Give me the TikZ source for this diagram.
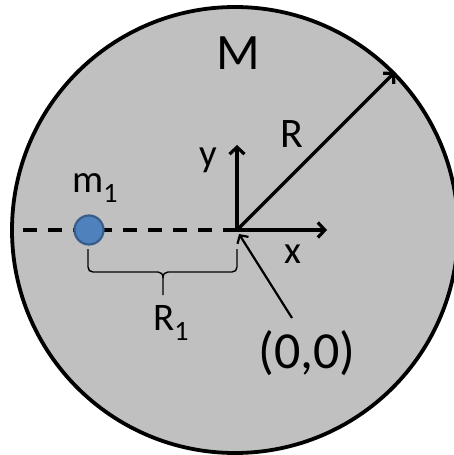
\documentclass[tikz,border=0pt]{standalone}
\usepackage{fontspec}
\setmainfont{Carlito}
\usetikzlibrary{arrows.meta}
\definecolor{diskgray}{RGB}{192,192,192}
\definecolor{massblue}{RGB}{79,129,189}
\definecolor{massedge}{RGB}{56,93,138}
\begin{document}
\begin{tikzpicture}[x=1pt,y=-1pt,
  disk/.style={draw=black,line width=3.8pt,fill=diskgray},
  mass/.style={circle,draw=massedge,line width=2.2pt,fill=massblue,minimum size=29pt,inner sep=0pt},
  dashline/.style={draw=black,line width=3.6pt,dash pattern=on 14pt off 11pt},
  axisarrow/.style={draw=black,line width=3.2pt,-{Straight Barb[length=7pt,width=15pt]}},
  pointer/.style={draw=black,line width=2.2pt,-{Straight Barb[length=6pt,width=13pt]}},
  bracepath/.style={draw=black,line width=1.4pt},
  lbl/.style={inner sep=0pt,anchor=base,text=black}
]
\useasboundingbox (0,0) rectangle (454,455);
\coordinate (C) at (235,230);
\draw[disk] (C) circle (223);
\coordinate (O) at (237,230);
\coordinate (W) at (12,230);
\draw[dashline] (O) -- (W);
\node[mass] (m) at (89,230) {};
\coordinate (ytip) at (237,145);
\coordinate (xtip) at (327,230);
\coordinate (Rtip) at (395,72);
\coordinate (ptr) at (292,318);
\coordinate (Ohit) at (239,234);
\draw[axisarrow] (O) -- (ytip);
\draw[axisarrow] (O) -- (xtip);
\draw[axisarrow] (O) -- (Rtip);
\draw[pointer] (ptr) -- (Ohit);
% brace
\coordinate (bl) at (88,249);
\coordinate (br) at (237,249);
\coordinate (btip) at (163,295);
\draw[bracepath] (bl) -- (88,267) .. controls (88,270) and (90,272) .. (93,272) -- (158,272) .. controls (161,272) and (163,274) .. (163,278) -- (btip);
\draw[bracepath] (br) -- (237,267) .. controls (237,270) and (235,272) .. (232,272) -- (168,272) .. controls (165,272) and (163,274) .. (163,278);
% labels
\node[lbl,font=\fontsize{51}{51}\selectfont] (Mlbl) at (238,69) {M};
\node[lbl,font=\fontsize{42}{42}\selectfont] (Rlbl) at (292,147) {R};
\node[lbl,font=\fontsize{39}{39}\selectfont] (ylbl) at (208,166) {y};
\node[lbl,font=\fontsize{39}{39}\selectfont] (xlbl) at (293,263) {x};
\node[lbl,anchor=base west,font=\fontsize{39}{39}\selectfont] (mlbl) at (72,192) {m\raisebox{-10pt}{\fontsize{28}{28}\selectfont 1}};
\node[lbl,anchor=base west,font=\fontsize{39}{39}\selectfont] (R1lbl) at (153,330) {R\raisebox{-10pt}{\fontsize{28}{28}\selectfont 1}};
\node[lbl,font=\fontsize{52}{52}\selectfont] (olbl) at (307,368) {(0,0)};
\end{tikzpicture}
\end{document}
